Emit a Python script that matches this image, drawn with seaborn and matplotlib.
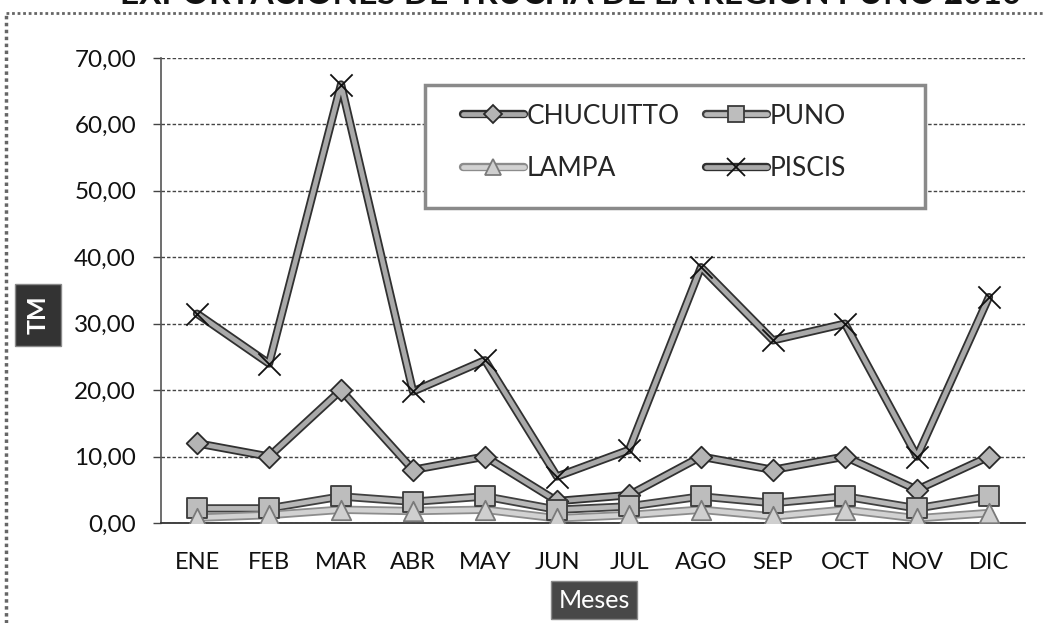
import numpy as np
import pandas as pd
import matplotlib
matplotlib.use("Agg")
import matplotlib.pyplot as plt
import matplotlib.patheffects as pe
from matplotlib.lines import Line2D
from matplotlib.patches import Rectangle
from matplotlib.ticker import FixedLocator, FuncFormatter
import seaborn as sns

# Monthly trout exports (TM) by province, 2010
meses = ["ENE", "FEB", "MAR", "ABR", "MAY", "JUN", "JUL", "AGO", "SEP", "OCT", "NOV", "DIC"]
chucuitto = [12.0, 10.0, 20.0, 8.0, 10.0, 3.3, 4.2, 10.0, 8.0, 10.0, 5.0, 10.0]
puno = [2.2, 2.2, 4.0, 3.2, 4.0, 2.0, 2.5, 4.0, 3.0, 4.0, 2.2, 4.0]
lampa = [0.8, 1.2, 2.0, 1.8, 2.0, 0.7, 1.2, 2.0, 1.0, 2.0, 0.7, 1.5]
piscis = [31.5, 24.0, 66.0, 19.8, 24.5, 7.0, 11.0, 38.5, 27.5, 30.0, 10.0, 34.0]
series_names = ["CHUCUITTO", "PUNO", "LAMPA", "PISCIS"]
y_ticks = [0, 10, 20, 30, 40, 50, 60, 70]
titulo = "EXPORTACIONES DE TRUCHA DE LA REGIÓN PUNO 2010"

sns.set_theme(style="white")
plt.rcParams["font.family"] = ["Lato", "DejaVu Sans"]

df = pd.DataFrame({
    "Mes": meses * 4,
    "TM": chucuitto + puno + lampa + piscis,
    "Serie": np.repeat(series_names, len(meses)),
})

estilos = {
    "CHUCUITTO": dict(face="#a9a9a9", edge="#303030", marker="D", ms=11, mfc="#b4b4b4", mec="#2a2a2a"),
    "PUNO": dict(face="#b8b8b8", edge="#404040", marker="s", ms=14, mfc="#bdbdbd", mec="#3a3a3a"),
    "LAMPA": dict(face="#d2d2d2", edge="#8c8c8c", marker="^", ms=14, mfc="#cfcfcf", mec="#7a7a7a"),
    "PISCIS": dict(face="#a9a9a9", edge="#303030", marker="x", ms=16, mfc="#111111", mec="#111111"),
}

fig = plt.figure(figsize=(10.43, 6.23), dpi=100)
ax = fig.add_axes([0.1544, 0.1605, 0.8283, 0.7465])

handles = []
for name in series_names:
    st = estilos[name]
    sub = df[df["Serie"] == name]
    efectos = [pe.Stroke(linewidth=6, foreground=st["edge"]), pe.Normal()]
    sns.lineplot(data=sub, x="Mes", y="TM", ax=ax, color=st["face"], linewidth=3.4,
                 sort=False, path_effects=efectos, zorder=3)
    if st["marker"] == "x":
        sns.scatterplot(data=sub, x="Mes", y="TM", ax=ax, marker="x", s=st["ms"] ** 2,
                        color=st["mec"], linewidth=1.3, zorder=4)
    else:
        sns.scatterplot(data=sub, x="Mes", y="TM", ax=ax, marker=st["marker"], s=st["ms"] ** 2,
                        color=st["mfc"], edgecolor=st["mec"], linewidth=1.3, zorder=4)
    linea = Line2D([], [], color=st["face"], linewidth=3.4, path_effects=efectos)
    marca = Line2D([], [], linestyle="none", marker=st["marker"], markersize=st["ms"] * 0.85,
                   markerfacecolor=st["mfc"], markeredgecolor=st["mec"], markeredgewidth=1.3)
    handles.append((linea, marca))

# axes, ticks and grid
ax.set_xlim(-0.5, len(meses) - 0.5)
ax.set_ylim(y_ticks[0], y_ticks[-1])
ax.yaxis.set_major_locator(FixedLocator(y_ticks))
ax.yaxis.set_major_formatter(FuncFormatter(lambda v, p: f"{v:.2f}".replace(".", ",")))
ax.xaxis.set_minor_locator(FixedLocator(np.arange(-0.5, len(meses), 1.0)))
ax.tick_params(axis="x", which="major", length=0, pad=21, labelsize=17, labelcolor="#111111")
ax.tick_params(axis="x", which="minor", length=5, width=1, color="#333333", direction="out")
ax.tick_params(axis="y", which="major", length=6, width=1, color="#444444", direction="out",
               pad=12, labelsize=17.5, labelcolor="#111111", left=True)
ax.yaxis.grid(True, linestyle=(0, (2.5, 1.5)), color="#444444", linewidth=1)
ax.xaxis.grid(False)
ax.set_axisbelow(True)
for s in ["top", "right"]:
    ax.spines[s].set_visible(False)
ax.spines["left"].set_color("#555555")
ax.spines["left"].set_linestyle((0, (2, 1)))
ax.spines["left"].set_linewidth(1.2)
ax.spines["bottom"].set_color("#333333")
ax.spines["bottom"].set_linewidth(1.3)
ax.set_xlabel("")
ax.set_ylabel("")

# legend box
ax.add_patch(Rectangle((0.3056, 0.677), 0.5787, 0.265, transform=ax.transAxes,
                       facecolor="white", edgecolor="#8a8a8a", linewidth=2.5,
                       zorder=4.5, clip_on=False))
orden = [0, 2, 1, 3]
leg = ax.legend([handles[i] for i in orden], [series_names[i] for i in orden],
                ncol=2, loc="upper left", bbox_to_anchor=(0.3495, 0.902),
                frameon=False, fontsize=19, handlelength=2.3, handletextpad=0.1,
                labelspacing=1.05, columnspacing=1.0, borderpad=0, borderaxespad=0)
leg.set_zorder(5)

# axis titles in dark boxes
fig.text(38 / 1043, 1 - 315 / 623, "TM", rotation=90, ha="center", va="center",
         color="white", fontsize=18, fontweight="bold",
         bbox=dict(boxstyle="square,pad=0.45", facecolor="#333333", edgecolor="#8a8a8a"))
fig.text(594 / 1043, 1 - 600 / 623, "Meses", ha="center", va="center",
         color="white", fontsize=18,
         bbox=dict(boxstyle="square,pad=0.3", facecolor="#484848", edgecolor="#8a8a8a"))

# page frame and title above it
fig.add_artist(Line2D([6 / 1043, 6 / 1043], [0, 1 - 13 / 623], transform=fig.transFigure,
                      color="#666666", linewidth=2.5, linestyle=(0, (1, 1))))
fig.add_artist(Line2D([6 / 1043, 1], [1 - 13 / 623, 1 - 13 / 623], transform=fig.transFigure,
                      color="#666666", linewidth=2, linestyle=(0, (1, 1))))
fig.text(571 / 1043, 1 - 4 / 623, titulo, ha="center", va="baseline",
         fontsize=24, fontweight="bold", color="#111111")

fig.savefig("out.png", dpi=100, facecolor="white")
